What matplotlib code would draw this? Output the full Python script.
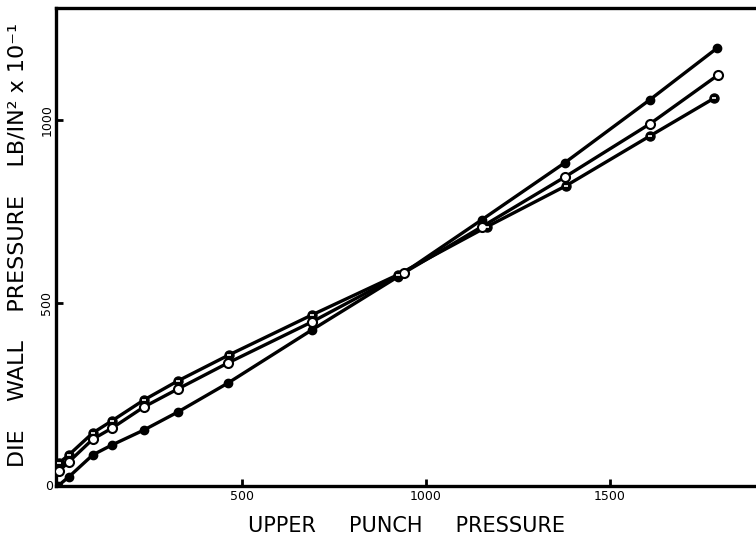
import matplotlib
matplotlib.use("Agg")
import matplotlib.pyplot as plt

# Data
x_filled = [0, 30, 95, 147, 234, 326, 462, 690, 925, 1152, 1378, 1609, 1793]
y_filled = [0, 25, 85, 112, 153, 202, 281, 426, 572, 727, 883, 1055, 1197]

x_open = [3, 30, 95, 147, 234, 326, 462, 690, 940, 1152, 1378, 1609, 1795]
y_open = [41, 66, 128, 158, 216, 265, 336, 448, 582, 708, 844, 989, 1123]

x_half = [3, 30, 95, 147, 234, 326, 465, 690, 924, 1166, 1381, 1609, 1785]
y_half = [63, 85, 145, 178, 235, 287, 358, 467, 577, 708, 820, 956, 1060]

x_ticks = [500, 1000, 1500]
y_ticks = [0, 500, 1000]

fig = plt.figure(figsize=(7.56, 5.45), dpi=100)
ax = fig.add_axes([56 / 756, 59 / 545, 700 / 756, 478 / 545])

lw = 2.4
ax.plot(x_filled, y_filled, color="black", lw=lw, marker="o", ms=6,
        mfc="black", mec="black", zorder=3)
ax.plot(x_open, y_open, color="black", lw=lw, marker="o", ms=6.5,
        mfc="white", mec="black", mew=1.5, zorder=4)
ax.plot(x_half, y_half, color="black", lw=lw, marker="o", ms=6.5,
        mfc="black", mec="black", zorder=3)
ax.plot(x_half, y_half, ls="none", marker="_", ms=3.5, mew=1.2,
        color="white", zorder=5)

ax.set_xlim(-5, 1898)
ax.set_ylim(0, 1306)

for s in ["left", "bottom", "top"]:
    ax.spines[s].set_linewidth(2.4)
ax.spines["right"].set_visible(False)

ax.set_xticks(x_ticks)
ax.set_xticklabels([str(v) for v in x_ticks], fontsize=9)
ax.set_yticks(y_ticks)
ax.set_yticklabels([str(v) for v in y_ticks], fontsize=9, rotation=90,
                   va="center")
ax.get_yticklabels()[0].set_rotation(0)
ax.tick_params(axis="both", direction="in", length=5, width=2, pad=3)
ax.tick_params(axis="y", pad=2)
ax.yaxis.get_major_ticks()[0].tick1line.set_visible(False)

ax.set_xlabel("UPPER     PUNCH     PRESSURE", fontsize=15, labelpad=9)
ax.set_ylabel("DIE    WALL    PRESSURE    LB/IN² x 10⁻¹", fontsize=16)
ax.yaxis.set_label_coords(-0.040, 0.505)

fig.savefig("out.png", dpi=100)
